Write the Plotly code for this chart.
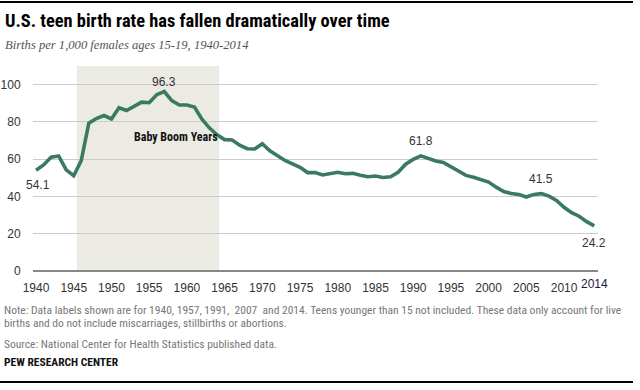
import plotly.graph_objects as go

years = list(range(1940, 2015))
rates = [54.1, 56.9, 61.1, 61.7, 54.3, 51.1, 59.3, 79.3, 81.8, 83.4,
         81.6, 87.6, 86.1, 88.2, 90.6, 90.3, 94.6, 96.3, 91.4, 89.1,
         89.1, 88.0, 81.4, 76.7, 73.1, 70.5, 70.3, 67.5, 65.6, 65.5,
         68.3, 64.5, 61.7, 59.3, 57.5, 55.6, 52.8, 52.8, 51.5, 52.3,
         53.0, 52.2, 52.4, 51.4, 50.6, 51.0, 50.2, 50.6, 53.0, 57.3,
         59.9, 61.8, 60.3, 59.0, 58.2, 56.0, 53.5, 51.3, 50.3, 48.8,
         47.7, 45.0, 42.6, 41.6, 41.1, 39.7, 41.1, 41.5, 40.2, 37.9,
         34.2, 31.3, 29.4, 26.5, 24.2]
label_years = [1940, 1957, 1991, 2007, 2014]
x_tick_vals = list(range(1940, 2015, 5))
x_tick_text = [str(v) for v in x_tick_vals]
y_tick_vals = [0, 20, 40, 60, 80, 100]
boom_start, boom_end = 1945.4, 1964.3

title = "U.S. teen birth rate has fallen dramatically over time"
subtitle = "Births per 1,000 females ages 15-19, 1940-2014"
note1 = "Note: Data labels shown are for 1940, 1957, 1991,  2007  and 2014. Teens younger than 15 not included. These data only account for live"
note2 = "births and do not include miscarriages, stillbirths or abortions."
source = "Source: National Center for Health Statistics published data."
credit = "PEW RESEARCH CENTER"

# plot area pixel geometry
L, R, T, B = 33, 598, 66, 271
W, H = 640, 390
def px(x):
    return (x - L) / (R - L)
def py(y):
    return (B - y) / (B - T)

NARROW = "Liberation Sans Narrow, Roboto Condensed, Arial Narrow, Liberation Sans, sans-serif"
SANS = "Liberation Sans, Arial, sans-serif"

fig = go.Figure()
fig.add_trace(go.Scatter(x=years, y=rates, mode="lines",
                         line=dict(color="#3b7a62", width=3.6),
                         hoverinfo="skip", showlegend=False))

fig.add_shape(type="rect", xref="x", yref="paper", x0=boom_start, x1=boom_end,
              y0=0, y1=1, fillcolor="#ecebe3", line=dict(width=0), layer="below")

# data labels
offsets = {1940: (2, -15), 1957: (0, 10), 1991: (0, 15), 2007: (0, 15), 2014: (0, -17)}
for yr in label_years:
    v = rates[years.index(yr)]
    dx, dy = offsets[yr]
    fig.add_annotation(x=yr, y=v, text=f"{v}", showarrow=False,
                       xshift=dx, yshift=dy,
                       font=dict(family=SANS, size=12, color="#333333"))

fig.add_annotation(x=1958.6, y=72, text="<b>Baby Boom Years</b>", showarrow=False,
                   font=dict(family=NARROW, size=12, color="#111111"))

# 2014 tick label
fig.add_annotation(x=2014, xref="x", yref="paper", y=py(284), yanchor="middle", text="2014",
                   showarrow=False, font=dict(family=SANS, size=12, color="#1a1a40"))

# titles and notes
def text_note(x, y, text, size, color, family):
    fig.add_annotation(xref="paper", yref="paper", x=px(x), y=py(y), xanchor="left",
                       yanchor="middle", text=text, showarrow=False,
                       font=dict(family=family, size=size, color=color))

text_note(3, 20, "<b>" + title + "</b>", 18.4, "#000000", NARROW)
text_note(3, 45, "<i>" + subtitle + "</i>", 12.6, "#555555", "Liberation Serif, DejaVu Serif, serif")
text_note(2, 310, note1, 11.5, "#777777", NARROW)
text_note(2, 323, note2, 11.5, "#777777", NARROW)
text_note(2, 344, source, 11.5, "#777777", NARROW)
text_note(2, 362, "<b>" + credit + "</b>", 11.5, "#111111", NARROW)

# top and bottom rules
for yy, lw in [(2, 2), (382, 2)]:
    fig.add_shape(type="line", xref="paper", yref="paper", x0=px(0), x1=px(633),
                  y0=py(yy), y1=py(yy), line=dict(color="#000000", width=lw))

fig.update_layout(
    width=W, height=H,
    margin=dict(l=L, r=W - R, t=T, b=H - B, autoexpand=False),
    paper_bgcolor="white", plot_bgcolor="white",
    xaxis=dict(range=[1939.6, 2014.5], tickvals=x_tick_vals, ticktext=x_tick_text,
               showgrid=False, zeroline=False, showline=False,
               ticks="outside", ticklen=6, tickcolor="rgba(0,0,0,0)",
               tickfont=dict(family=SANS, size=12, color="#333333"),
               fixedrange=True),
    yaxis=dict(range=[0, 110], tickvals=y_tick_vals, showgrid=True, gridcolor="#cccccc",
               gridwidth=1, zeroline=True, zerolinecolor="#888888", zerolinewidth=1.5,
               showline=False, ticks="outside", ticklen=9, tickcolor="rgba(0,0,0,0)",
               tickfont=dict(family=SANS, size=12, color="#333333"),
               fixedrange=True),
    showlegend=False,
)

post = ("var d=document.documentElement,b=document.body;"
        "d.style.margin='0';d.style.padding='0';d.style.overflow='hidden';"
        "b.style.margin='0';b.style.padding='0';b.style.overflow='hidden';"
        "window.scrollTo(0,0);")
fig.write_html("out.html", config={"displayModeBar": False}, post_script=post)
